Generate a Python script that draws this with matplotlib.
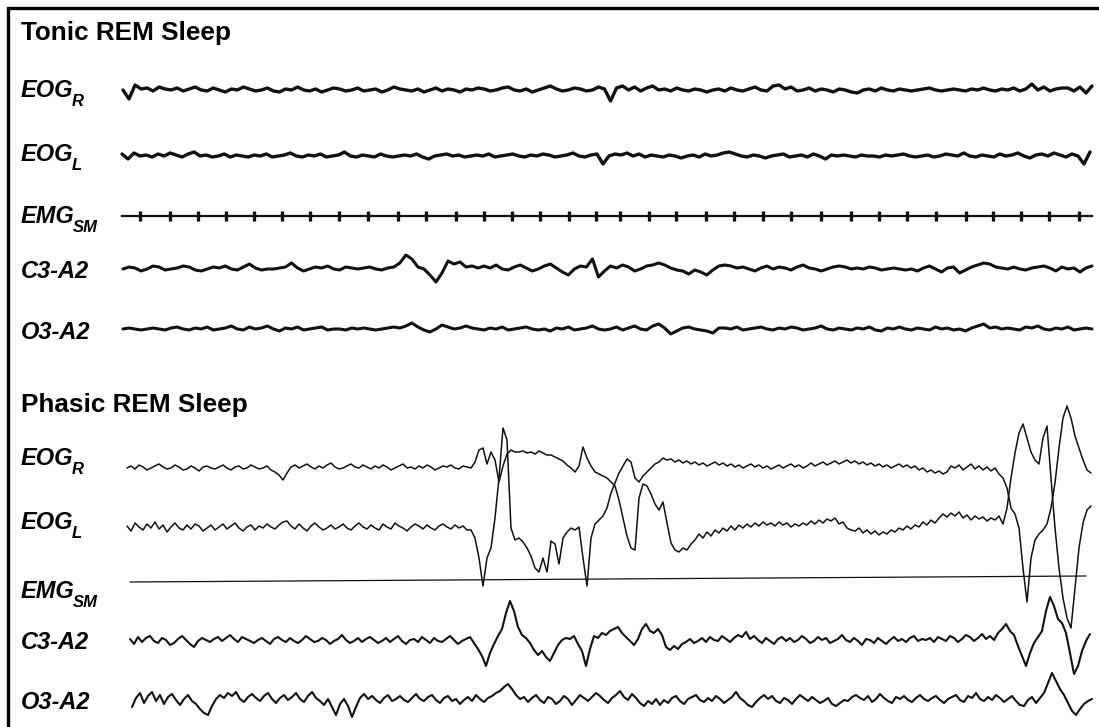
import numpy as np
import matplotlib.pyplot as plt

plt.rcParams['font.family'] = ['Liberation Sans', 'DejaVu Sans']

# ---- tonic REM sleep traces (deflection, up = positive) ----
tonic_eog_r = [0,-9,5,1,2,-1,3,1,0,2,-1,1,3,0,-1,2,0,-2,1,0,
               3,1,-1,0,2,-1,-2,1,0,3,0,-1,1,-2,0,2,1,-1,0,2,
               -1,0,1,-2,0,3,1,0,-1,1,-2,0,2,-1,1,0,-2,1,0,2,
               1,-1,0,2,3,0,-1,1,-2,0,2,4,1,-1,0,2,1,-1,0,3,
               1,-11,2,4,0,3,-1,2,4,0,1,-1,2,0,-1,1,0,-2,0,1,
               -1,2,0,-1,1,3,0,-1,4,5,1,3,-1,0,2,-1,1,0,-2,1,
               0,-2,-3,0,1,-1,2,0,-1,1,0,-1,0,1,2,0,-1,0,1,0,
               -1,1,0,2,0,-1,1,0,2,-1,1,6,0,3,-1,1,2,2,-1,3,-3,4]
tonic_eog_l = [2,-3,3,0,1,-1,2,0,3,1,-1,2,4,0,1,-1,0,2,-1,1,
               0,-1,1,0,2,-1,0,1,3,0,-1,1,0,2,-1,0,1,4,0,-1,
               1,0,-1,2,0,-1,0,1,0,2,-1,-3,0,1,2,0,1,-1,0,1,
               0,2,-1,0,1,2,0,-1,1,0,2,1,-1,0,1,3,0,-1,1,2,
               -8,0,2,1,3,0,2,-1,1,0,-1,1,0,-2,0,1,-1,2,0,1,
               3,4,2,0,-1,1,0,-2,0,1,2,-1,0,1,-1,2,0,-3,1,0,
               1,0,-1,1,0,0,-1,1,0,1,2,0,-1,0,1,-1,0,2,1,0,
               3,0,-1,1,0,-1,2,0,1,3,0,-2,1,2,0,3,1,-1,2,0,-8,4]
tonic_emg_ticks = [140,170,198,226,254,282,310,339,368,398,426,456,484,512,540,
                   569,596,620,649,676,706,734,763,791,821,851,879,907,936,966,
                   993,1021,1049,1079]
tonic_c3 = [0,2,1,-2,0,3,2,-1,0,1,3,2,-1,-2,0,2,1,3,0,-1,
            2,5,1,-1,0,0,1,2,6,1,-2,0,2,1,3,0,-1,2,1,0,
            1,2,0,-1,1,2,6,14,10,2,0,-6,-13,-4,8,5,7,2,3,1,
            3,1,4,0,-1,2,4,1,-2,0,3,5,1,-3,-6,0,3,2,10,-8,
            -2,3,1,4,2,-2,0,3,4,6,4,1,-1,-2,-5,-1,-3,-6,-1,3,
            4,3,1,2,0,-2,1,3,0,2,1,-1,2,4,1,0,-2,0,2,3,
            2,0,1,0,2,1,-1,0,1,0,-1,0,-2,1,3,0,-3,1,2,-4,
            -1,2,4,6,5,2,1,0,2,0,-1,1,2,3,1,-2,2,0,1,-3,1,3]
tonic_o3 = [0,1,0,-1,0,1,0,-1,1,2,0,-1,1,0,2,-1,0,1,3,0,
            -1,2,0,1,3,0,-2,1,0,2,-1,0,1,2,-1,0,0,-1,1,0,
            1,0,-1,0,1,2,1,3,6,2,-1,-3,0,4,2,0,1,3,1,0,
            -1,1,0,2,-1,0,1,2,0,-1,0,-2,1,0,2,-1,0,1,3,0,
            -1,0,2,-1,1,3,0,-1,3,5,1,-5,-2,1,2,0,-1,-2,-4,1,
            1,0,2,-1,0,1,2,0,-1,1,0,2,1,-1,0,1,3,0,-1,1,
            0,-1,1,0,2,-1,-2,1,0,2,0,-1,1,0,-1,2,0,1,-1,0,
            -2,1,3,5,1,2,0,1,0,-1,2,1,3,0,-1,1,0,2,-1,0,1,0]

# ---- phasic REM sleep traces ----
phasic_eog_r = [0,2,-1,3,1,-2,0,2,4,1,-1,0,3,1,-2,-1,2,0,-3,1,
                2,0,-1,1,3,0,-2,1,2,-1,0,3,1,-1,0,2,-2,-4,-7,-12,
                -5,1,3,0,2,4,1,-1,2,0,3,5,1,-1,0,2,4,1,0,3,
                1,-1,2,0,3,1,-2,0,2,4,0,1,-1,2,0,3,1,-2,0,2,
                1,3,0,-1,2,1,
                0,6,18,20,4,16,8,-14,2,14,
                18,16,16,17,15,16,14,17,15,13,
                13,11,9,7,3,0,-4,2,21,10,
                2,-4,-6,-8,-10,-14,-18,-32,-50,-68,
                -80,-82,-30,-16,-18,-26,-36,-42,-34,-55,
                -75,-82,-84,-80,-82,-76,
                -72,-66,-70,-64,-68,-62,-65,-60,-63,-58,-62,-57,-60,-56,-59,-55,-58,-54,-57,-55,
                -58,-54,-57,-55,-59,-56,-58,-55,-57,-53,-56,-52,-55,-51,-53,-50,-56,-54,-60,-62,
                -63,-60,-65,-62,-66,-63,-67,-64,-66,-62,-64,-60,-62,-58,-61,-57,-59,-54,-57,-52,
                -55,-50,-46,-49,-45,-48,-44,-50,-47,-52,-48,-51,-49,-53,-50,-52,-48,-56,
                -40,-10,15,35,44,30,16,8,4,30,42,-10,-60,-100,-130,-150,-160,-120,-80,-55,-42,-38]
phasic_eog_l = [2,-3,5,1,-2,4,0,6,-1,3,-4,1,5,0,-2,3,-1,4,2,-3,
                0,3,-2,1,4,-1,2,5,0,-3,1,3,-2,2,0,4,1,-1,3,6,
                7,2,-1,4,0,-3,2,5,1,-2,0,3,-1,1,4,0,-2,2,5,1,
                -1,3,0,-2,4,1,-1,5,2,0,-3,1,4,2,-1,3,0,-2,2,4,
                1,-1,3,0,2,-2,
                -2,-10,-30,-58,-30,-20,10,50,100,88,
                0,-12,-10,-14,-20,-28,-40,-44,-30,-44,
                -13,-16,-36,-10,-4,0,-2,1,-30,-58,
                -10,4,8,12,20,35,45,55,62,69,
                66,50,46,52,56,60,64,66,70,68,
                69,66,68,65,67,64,66,63,65,62,64,66,63,65,62,64,61,63,60,62,
                64,61,63,60,62,59,61,63,60,62,64,61,63,60,62,65,62,64,66,63,
                65,67,64,66,68,65,67,64,66,63,65,62,64,61,63,60,62,64,61,63,
                60,62,58,60,56,58,55,57,54,56,62,60,63,58,61,64,59,62,58,61,57,60,54,50,
                40,20,14,0,-40,-74,-30,-12,-6,-2,4,20,45,80,110,122,110,92,80,68,58,55]
phasic_emg = [0, 6]
phasic_c3 = [2,-3,4,-1,3,5,0,-2,3,1,-4,-2,2,5,1,-3,-6,0,3,1,
             -1,2,4,0,3,6,2,-1,4,2,0,-2,1,3,0,-3,2,4,1,-1,
             3,0,-2,1,5,2,-1,0,3,1,-3,0,2,6,1,-2,0,3,-1,2,
             4,1,-2,0,3,-1,2,5,0,-3,1,2,-1,4,1,-2,3,0,-1,2,
             5,1,-3,0,2,4,-2,-8,-15,-25,-12,-3,5,12,28,40,30,14,6,3,
             -2,-9,-14,-10,-16,-20,-12,-4,1,3,2,5,-3,-10,-25,-8,5,3,8,6,
             10,12,14,8,4,0,-4,2,12,17,10,8,12,6,-6,-9,-5,-8,-3,-1,
             2,-2,0,3,-1,4,1,0,5,2,-1,3,6,4,9,2,5,1,-2,3,
             0,-3,2,4,0,3,-1,1,5,2,-2,0,4,1,3,-2,0,2,6,1,
             -1,3,0,-4,2,1,-2,3,0,-3,1,4,0,2,-1,3,5,0,2,1,
             3,-1,4,2,0,5,3,-1,2,6,4,0,3,7,2,5,1,8,12,17,
             10,6,-5,-15,-25,-12,-2,4,10,30,44,35,22,18,8,-12,-33,-25,-10,0,
             7]
phasic_o3 = [-6,3,8,-2,5,9,0,6,-3,4,7,1,-4,2,6,0,-3,-8,-12,-14,
             -5,2,6,3,8,5,9,2,-1,4,7,3,0,5,8,2,-2,3,6,1,
             4,8,2,-1,5,9,3,0,-4,2,-6,-14,-3,2,-5,-16,-6,3,7,2,
             5,1,-2,3,6,0,2,5,1,-1,3,7,2,0,4,6,1,-2,3,5,
             0,2,-3,1,4,0,6,2,-1,3,5,8,10,14,17,12,6,2,4,-1,
             3,6,1,-2,4,2,-3,0,5,2,-4,1,6,3,0,4,8,5,1,-2,
             3,6,10,4,1,7,3,-2,-5,0,-3,2,-4,1,-2,3,5,0,-3,2,
             4,6,1,-1,3,0,5,2,-2,1,4,9,3,0,-4,-6,-1,3,6,2,
             5,0,-2,3,1,-3,2,6,3,0,4,1,-2,0,3,-3,-5,-2,1,0,
             4,6,3,1,5,-1,2,7,3,0,-2,4,2,5,1,-1,3,6,2,0,
             3,5,1,-2,2,4,6,1,-1,5,3,8,2,0,4,1,6,3,-1,2,
             5,0,-4,-5,1,4,-2,3,8,18,28,20,12,6,-2,-10,-14,-8,-3,0,
             2]

fig = plt.figure(figsize=(10.99, 7.27), dpi=100)
ax = fig.add_axes([0, 0, 1, 1])
ax.set_xlim(0, 1099)
ax.set_ylim(727, 0)
ax.axis('off')

# frame (right and bottom edges are cut off in the source)
ax.plot([7.5, 7.5, 1099], [727, 7.5, 7.5], color='black', lw=2.4, solid_joinstyle='miter')


def trace(vals, x0, x1, base, lw, color='#111111'):
    x = np.linspace(x0, x1, len(vals))
    ax.plot(x, base - np.array(vals, dtype=float), color=color, lw=lw,
            solid_joinstyle='round', solid_capstyle='round')


def label(txt, sub, y):
    t = ax.text(21, y, txt, fontsize=17, fontweight='bold', style='italic', va='baseline')
    if sub:
        ax.annotate(sub, xy=(1, 0), xycoords=t, xytext=(-1.5, -3), textcoords='offset points',
                    fontsize=12, fontweight='bold', style='italic', va='baseline')


# Tonic block
ax.text(21, 40, 'Tonic REM Sleep', fontsize=18.8, fontweight='bold', va='baseline')
label('EOG', 'R', 97)
label('EOG', 'L', 161)
label('EMG', 'SM', 223)
label('C3-A2', None, 278)
label('O3-A2', None, 339)

trace(tonic_eog_r, 123, 1092, 90, 2.4)
trace(tonic_eog_l, 122, 1090, 156, 2.4)
ax.plot([122, 1092], [216, 216], color='#111111', lw=1.6)
ax.plot(tonic_emg_ticks, [216] * len(tonic_emg_ticks), ls='none', marker='|',
        ms=7, mew=2.4, color='#111111')
trace(tonic_c3, 123, 1092, 269, 2.2)
trace(tonic_o3, 123, 1092, 329, 2.2)

# Phasic block
ax.text(21, 412, 'Phasic REM Sleep', fontsize=18.8, fontweight='bold', va='baseline')
label('EOG', 'R', 465)
label('EOG', 'L', 529)
label('EMG', 'SM', 598)
label('C3-A2', None, 649)
label('O3-A2', None, 709)

trace(phasic_eog_r, 127, 1091, 468, 1.1)
trace(phasic_eog_l, 127, 1091, 528, 1.1)
trace(phasic_emg, 130, 1086, 582, 0.9)
trace(phasic_c3, 130, 1090, 641, 1.5)
trace(phasic_o3, 132, 1092, 701, 1.5)

plt.savefig('out.png', dpi=100)
